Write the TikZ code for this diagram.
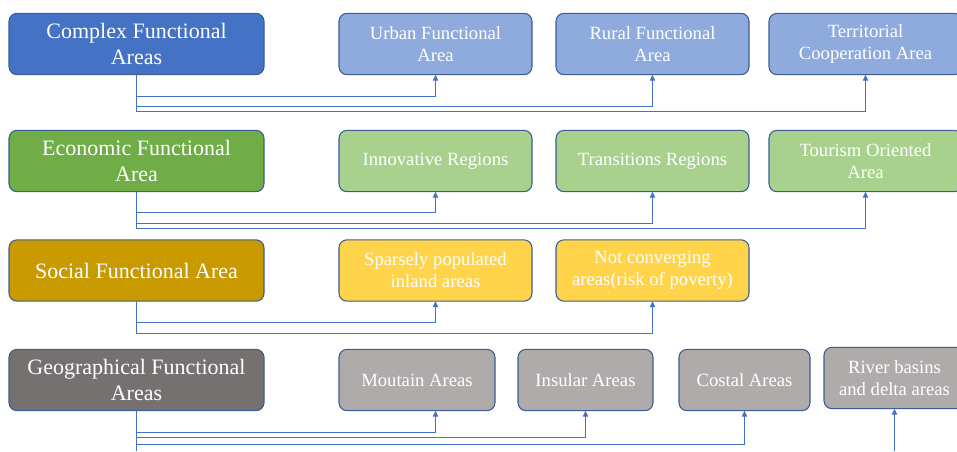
\documentclass[tikz,border=0pt]{standalone}
\usepackage{fontspec}
\setmainfont{Liberation Serif}
\usetikzlibrary{positioning,arrows.meta}

\definecolor{complexblue}{HTML}{4472C4}
\definecolor{complexlight}{HTML}{8FAADC}
\definecolor{economicgreen}{HTML}{70AD47}
\definecolor{economiclight}{HTML}{A9D18E}
\definecolor{socialgold}{HTML}{C99A00}
\definecolor{sociallight}{HTML}{FFD44A}
\definecolor{geogray}{HTML}{767171}
\definecolor{geolight}{HTML}{AFABAB}
\definecolor{boxborder}{HTML}{3A5D96}

\begin{document}
\begin{tikzpicture}[x=0.75pt, y=-0.75pt,
    main area/.style={draw=boxborder, line width=0.8pt, rounded corners=6pt,
        minimum width=191.25pt, minimum height=46pt, outer sep=0pt,
        text=white, align=center, font=\fontsize{16.5}{19}\selectfont},
    sub area/.style={draw=boxborder, line width=0.8pt, rounded corners=6pt,
        minimum width=144.75pt, minimum height=46pt, outer sep=0pt,
        text=white, align=center, font=\fontsize{14}{16.5}\selectfont},
    link/.style={draw=complexblue, line width=0.8pt,
        -{Triangle[length=4.5pt,width=4pt]}}
]
    \useasboundingbox (0,0) rectangle (957,451);
    \coordinate (page bottom) at (0,451);

    \node[main area, fill=complexblue] (complex area) at (136.5,44) {Complex Functional\\Areas};
    \node[sub area, fill=complexlight, right=56.25pt of complex area] (urban area) {Urban Functional\\Area};
    \node[sub area, fill=complexlight, right=18pt of urban area] (rural area) {Rural Functional\\Area};
    \node[sub area, fill=complexlight, right=15pt of rural area] (territorial area) {Territorial\\Cooperation Area};

    \draw[link] (complex area.south) -- ++(0,22) -| (urban area.south);
    \draw[link] (complex area.south) -- ++(0,32) -| (rural area.south);
    \draw[link] (complex area.south) -- ++(0,37) -| (territorial area.south);

    \node[main area, fill=economicgreen] (economic area) at (136.5,161) {Economic Functional\\Area};
    \node[sub area, fill=economiclight, right=56.25pt of economic area] (innovative area) {Innovative Regions};
    \node[sub area, fill=economiclight, right=18pt of innovative area] (transition area) {Transitions Regions};
    \node[sub area, fill=economiclight, right=15pt of transition area] (tourism area) {Tourism Oriented\\Area};

    \draw[link] (economic area.south) -- ++(0,21) -| (innovative area.south);
    \draw[link] (economic area.south) -- ++(0,32) -| (transition area.south);
    \draw[link] (economic area.south) -- ++(0,37) -| (tourism area.south);

    \node[main area, fill=socialgold] (social area) at (136.5,270.5) {Social Functional Area};
    \node[sub area, fill=sociallight, right=56.25pt of social area] (sparse area) {Sparsely populated\\inland areas};
    \node[sub area, fill=sociallight, right=18pt of sparse area] (poverty area) {Not converging\\areas(risk of poverty)};

    \draw[link] (social area.south) -- ++(0,21) -| (sparse area.south);
    \draw[link] (social area.south) -- ++(0,32) -| (poverty area.south);

    \node[main area, fill=geogray] (geo area) at (136.5,380) {Geographical Functional\\Areas};
    \node[sub area, fill=geolight, minimum width=117pt, right=56.25pt of geo area] (mountain area) {Moutain Areas};
    \node[sub area, fill=geolight, minimum width=101.25pt, right=17.25pt of mountain area] (insular area) {Insular Areas};
    \node[sub area, fill=geolight, minimum width=98.25pt, right=19.5pt of insular area] (coastal area) {Costal Areas};
    \node[sub area, fill=geolight, minimum width=105.75pt, right=10.5pt of coastal area, yshift=1.5pt] (river area) {River basins\\and delta areas};

    \draw[link, -] (geo area.south) -- (geo area.south |- page bottom);
    \draw[link] (geo area.south) -- ++(0,22) -| (mountain area.south -| sparse area.south);
    \draw[link] (geo area.south) -- ++(0,27) -| (insular area.south);
    \draw[link] (geo area.south) -- ++(0,34) -| (coastal area.south);
    \draw[link] (river area.south |- page bottom) -- (river area.south);
\end{tikzpicture}
\end{document}
